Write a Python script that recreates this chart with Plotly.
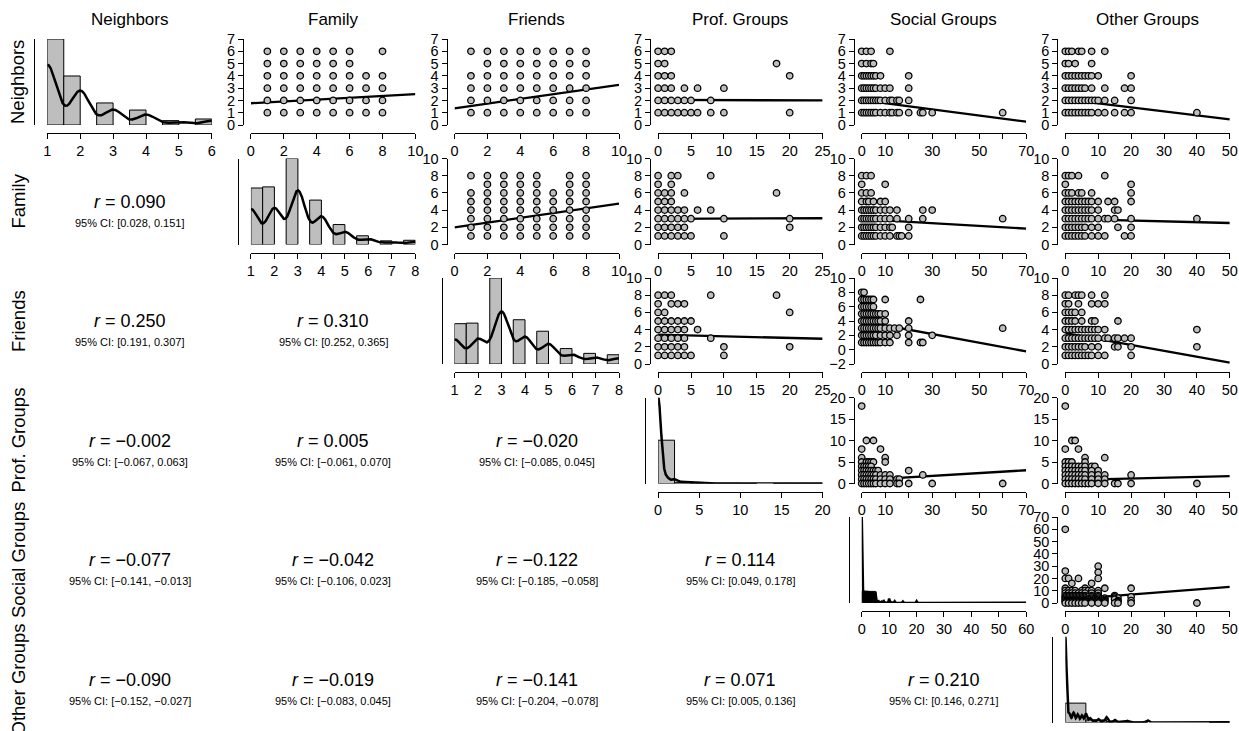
import numpy as np
import plotly.graph_objects as go

W, H = 1239, 731
FONT = "Liberation Sans, Arial, Helvetica, sans-serif"
TICKFONT = "Liberation Sans Narrow, Arial Narrow, Liberation Sans, Arial, sans-serif"

variables = ["Neighbors", "Family", "Friends", "Prof. Groups", "Social Groups", "Other Groups"]

# ---------------- diagonal: observed values and their frequencies ----------------
neighbors_values = [1, 2, 3, 4, 5, 6]
neighbors_counts = [472, 269, 121, 82, 24, 33]
family_values = [1, 2, 3, 4, 5, 6, 7, 8]
family_counts = [201, 205, 306, 158, 71, 31, 13, 15]
friends_values = [1, 2, 3, 4, 5, 6, 7, 8]
friends_counts = [144, 146, 307, 158, 117, 55, 38, 33]
prof_values = [0, 1, 2, 3, 4, 5, 6, 8, 10, 12, 15, 18, 20]
prof_counts = [850, 60, 40, 15, 10, 8, 4, 4, 5, 1, 1, 1, 1]
social_values = [0, 1, 2, 3, 4, 5, 6, 7, 8, 9, 10, 11, 12, 13, 14, 15, 16, 17, 18, 20, 25, 26, 30, 60]
social_counts = [484, 70, 68, 65, 64, 64, 15, 8, 12, 4, 25, 2, 10, 2, 2, 8, 3, 2, 2, 10, 3, 2, 3, 1]
other_values = [0, 1, 2, 3, 4, 5, 6, 7, 8, 9, 10, 11, 12, 13, 14, 15, 16, 18, 20, 40]
other_counts = [480, 50, 55, 45, 40, 50, 25, 12, 20, 6, 30, 3, 15, 3, 2, 10, 4, 3, 12, 2]

diag_values = [neighbors_values, family_values, friends_values, prof_values, social_values, other_values]
diag_counts = [neighbors_counts, family_counts, friends_counts, prof_counts, social_counts, other_counts]
diag_bandwidth = [0.285, 0.32, 0.33, 0.36, 0.16, 0.3]
diag_bin_width = [0.5, 0.5, 0.5, 2, 5, 5]
diag_ticks = [[1, 2, 3, 4, 5, 6], [1, 2, 3, 4, 5, 6, 7, 8], [1, 2, 3, 4, 5, 6, 7, 8],
              [0, 5, 10, 15, 20], [0, 10, 20, 30, 40, 50, 60], [0, 10, 20, 30, 40]]

# ---------------- axis ticks for scatter panels ----------------
col_ticks = {1: [0, 2, 4, 6, 8, 10], 2: [0, 2, 4, 6, 8, 10], 3: [0, 5, 10, 15, 20, 25],
             4: [0, 10, 20, 30, 40, 50, 60, 70], 5: [0, 10, 20, 30, 40, 50]}
col_ticktext = {4: ["0", "10", "", "30", "", "50", "", "70"]}
row_ticks = {0: [0, 1, 2, 3, 4, 5, 6, 7], 1: [0, 2, 4, 6, 8, 10], 2: [0, 2, 4, 6, 8, 10],
             3: [0, 5, 10, 15, 20], 4: [0, 10, 20, 30, 40, 50, 60, 70]}
friends_social_yticks = [-2, 0, 2, 4, 6, 8, 10]

# ---------------- scatter points (y value -> x values) ----------------
family_neighbors = {6: [1, 2, 3, 4, 5, 6, 8], 5: [1, 2, 3, 4, 5, 6], 4: [1, 2, 3, 4, 5, 6, 7, 8],
                    3: [1, 2, 3, 4, 5, 6, 7, 8], 2: [1, 2, 3, 4, 5, 6, 7, 8], 1: [1, 2, 3, 4, 5, 6, 7, 8]}
friends_neighbors = {6: [1, 2, 3, 4, 5, 6, 7, 8], 5: [2, 3, 4, 5, 6, 7, 8], 4: [1, 2, 3, 4, 5, 6, 7, 8],
                     3: [1, 2, 3, 4, 5, 6, 7, 8], 2: [1, 2, 3, 4, 5, 6, 7, 8], 1: [1, 2, 3, 4, 5, 6, 7, 8]}
prof_neighbors = {6: [0, 1, 2], 5: [0, 1, 18], 4: [0, 1, 2, 20], 3: [0, 1, 2, 4, 6, 10],
                  2: [0, 1, 2, 3, 4, 5, 8], 1: [0, 1, 2, 3, 4, 5, 6, 8, 10, 20]}
social_neighbors = {6: [0, 2, 4, 12], 5: [0, 2, 4, 5], 4: [0, 1, 2, 3, 4, 5, 6, 8, 20],
                    3: [0, 1, 2, 3, 4, 5, 6, 8, 10, 12, 20],
                    2: [0, 1, 2, 3, 4, 5, 6, 7, 8, 10, 12, 13, 15, 16, 20],
                    1: [0, 1, 2, 3, 4, 5, 6, 8, 10, 12, 13, 15, 16, 20, 25, 26, 30, 60]}
other_neighbors = {6: [0, 1, 2, 4, 5, 8, 12], 5: [0, 1, 3, 8], 4: [0, 1, 2, 3, 4, 5, 6, 7, 8, 10, 20],
                   3: [0, 1, 2, 3, 4, 5, 6, 8, 12, 18, 20],
                   2: [0, 1, 2, 3, 4, 5, 6, 7, 8, 9, 10, 12, 15, 20],
                   1: [0, 1, 2, 3, 4, 5, 6, 7, 8, 10, 12, 15, 18, 20, 40]}
friends_family = {8: [1, 2, 3, 4, 5, 7, 8], 7: [2, 3, 4, 5, 7, 8], 6: [1, 2, 3, 4, 5, 6, 7, 8],
                  5: [1, 2, 3, 4, 5, 6, 7, 8], 4: [1, 2, 3, 4, 5, 6, 7, 8], 3: [1, 2, 3, 4, 5, 6, 7, 8],
                  2: [1, 2, 3, 4, 5, 6, 7, 8], 1: [1, 2, 3, 4, 5, 6, 7, 8]}
prof_family = {8: [0, 2, 3, 8], 7: [0, 2], 6: [0, 1, 2, 4, 18], 5: [0, 1, 2], 4: [0, 1, 2, 3, 4, 6, 8],
               3: [0, 1, 2, 3, 4, 5, 10, 20], 2: [0, 1, 2, 3, 4, 20], 1: [0, 1, 2, 3, 4, 5, 10]}
social_family = {8: [0, 2, 4], 7: [0, 10], 6: [0, 2, 4], 5: [0, 2, 3, 5, 8, 10],
                 4: [0, 1, 2, 3, 4, 5, 6, 8, 10, 12, 15, 26, 30],
                 3: [0, 1, 2, 3, 4, 5, 6, 8, 10, 12, 15, 20, 26, 60],
                 2: [0, 1, 2, 3, 4, 5, 6, 8, 10, 12, 13, 20],
                 1: [0, 1, 2, 3, 4, 5, 6, 8, 10, 12, 15, 16, 17, 20]}
other_family = {8: [0, 1, 2, 4, 12], 7: [0, 20], 6: [0, 1, 2, 4, 5, 8, 20],
                5: [0, 1, 2, 3, 4, 5, 6, 7, 8, 10, 13, 15, 20],
                4: [0, 1, 2, 3, 4, 5, 6, 7, 8, 10, 15, 16],
                3: [0, 1, 2, 3, 4, 5, 6, 7, 8, 10, 12, 13, 15, 20, 40],
                2: [0, 1, 2, 3, 4, 5, 6, 8, 10, 16, 20],
                1: [0, 1, 2, 3, 4, 5, 6, 8, 10, 12, 18, 20]}
prof_friends = {8: [0, 1, 2, 8, 18], 7: [0, 2, 3, 4], 6: [0, 1, 20], 5: [0, 1, 2, 3, 4, 5],
                4: [0, 1, 2, 3, 4, 6], 3: [0, 1, 2, 3, 4, 8], 2: [0, 1, 2, 3, 4, 10, 20],
                1: [0, 1, 2, 3, 4, 5, 10]}
social_friends = {8: [0, 1], 7: [0, 1, 2, 3, 4, 5, 10, 25], 6: [0, 1, 2, 3, 4, 5],
                  5: [0, 1, 2, 3, 4, 5, 6, 7, 8, 10], 4: [0, 1, 2, 3, 4, 5, 6, 7, 8, 10, 20],
                  3: [0, 1, 2, 3, 4, 5, 6, 7, 8, 10, 12, 14, 16, 20, 60],
                  2: [0, 1, 2, 3, 4, 5, 6, 8, 10, 12, 15, 20, 30],
                  1: [0, 1, 2, 3, 4, 5, 6, 7, 8, 10, 12, 20, 25, 26]}
other_friends = {8: [0, 1, 3, 4, 5, 8, 12], 7: [0, 1, 4, 8, 10, 12], 6: [0, 1, 2, 3, 5],
                 5: [0, 1, 2, 3, 5, 8, 9, 16], 4: [0, 1, 2, 3, 4, 5, 6, 7, 8, 9, 10, 12, 40],
                 3: [0, 1, 2, 3, 4, 5, 6, 7, 8, 9, 10, 12, 13, 15, 16, 18, 20],
                 2: [0, 1, 2, 3, 4, 5, 6, 8, 10, 15, 16, 20, 40],
                 1: [0, 1, 2, 3, 4, 5, 6, 7, 8, 10, 12, 20]}
social_prof = {18: [0], 10: [2, 5], 8: [0, 8], 6: [0, 10], 5: [0, 2, 3, 4, 5, 10], 4: [0, 1, 2, 3, 4],
               3: [0, 1, 2, 3, 4, 5, 6, 7, 20], 2: [0, 1, 2, 3, 4, 5, 6, 8, 10, 12, 26],
               1: [0, 1, 2, 3, 4, 5, 6, 8, 10, 12, 15, 16],
               0: [0, 1, 2, 3, 4, 5, 6, 8, 10, 12, 15, 16, 20, 30, 60]}
other_prof = {18: [0], 10: [2, 3], 8: [0, 4], 6: [6, 12], 5: [0, 1, 2, 6],
              4: [0, 1, 2, 3, 4, 5, 6, 8, 9], 3: [0, 1, 2, 3, 4, 5, 6, 8, 10],
              2: [0, 1, 2, 3, 4, 5, 6, 8, 10, 12, 20], 1: [0, 1, 2, 3, 4, 5, 6, 8, 10, 12],
              0: [0, 1, 2, 3, 4, 5, 6, 7, 8, 10, 12, 15, 16, 20, 40]}
other_social = {60: [0], 30: [10], 26: [0], 25: [10], 20: [0, 1, 4, 10], 16: [2, 8], 12: [0, 6, 12, 20],
                10: [0, 1, 2, 3, 5, 6, 7, 8, 10], 8: [0, 1, 2, 3, 4, 5, 6, 8, 10],
                6: [0, 1, 2, 3, 4, 5, 6, 8, 10, 15], 5: [0, 1, 2, 3, 4, 5, 6, 7, 8, 10, 15, 20],
                4: [0, 1, 2, 3, 4, 5, 6, 8, 10, 12, 15, 16], 3: [0, 1, 2, 3, 4, 5, 6, 8, 10, 12, 15],
                2: [0, 1, 2, 3, 4, 5, 6, 8, 10, 12, 16, 20], 1: [0, 1, 2, 3, 4, 5, 6, 8, 10, 12, 16],
                0: [0, 1, 2, 3, 4, 5, 6, 8, 10, 12, 15, 16, 20, 40]}

scatter_points = {(0, 1): family_neighbors, (0, 2): friends_neighbors, (0, 3): prof_neighbors,
                  (0, 4): social_neighbors, (0, 5): other_neighbors,
                  (1, 2): friends_family, (1, 3): prof_family, (1, 4): social_family, (1, 5): other_family,
                  (2, 3): prof_friends, (2, 4): social_friends, (2, 5): other_friends,
                  (3, 4): social_prof, (3, 5): other_prof, (4, 5): other_social}

# regression lines: (intercept, slope)
fit_intercept = {(0, 1): 1.77, (0, 2): 1.36, (0, 3): 2.04, (0, 4): 2.03, (0, 5): 2.09,
                 (1, 2): 1.98, (1, 3): 2.98, (1, 4): 2.95, (1, 5): 2.98,
                 (2, 3): 3.41, (2, 4): 4.0, (2, 5): 3.6,
                 (3, 4): 0.77, (3, 5): 0.77, (4, 5): 2.7}
fit_slope = {(0, 1): 0.075, (0, 2): 0.19, (0, 3): -0.0016, (0, 4): -0.0251, (0, 5): -0.0326,
             (1, 2): 0.278, (1, 3): 0.003, (1, 4): -0.0157, (1, 5): -0.0096,
             (2, 3): -0.019, (2, 4): -0.0606, (2, 5): -0.069,
             (3, 4): 0.033, (3, 5): 0.0186, (4, 5): 0.21}

# correlations (lower triangle, row-major)
r_values = [0.090, 0.250, 0.310, -0.002, 0.005, -0.020, -0.077, -0.042, -0.122, 0.114,
            -0.090, -0.019, -0.141, 0.071, 0.210]
ci_lower = [0.028, 0.191, 0.252, -0.067, -0.061, -0.085, -0.141, -0.106, -0.185, 0.049,
            -0.152, -0.083, -0.204, 0.005, 0.146]
ci_upper = [0.151, 0.307, 0.365, 0.063, 0.070, 0.045, -0.013, 0.023, -0.058, 0.178,
            -0.027, 0.045, -0.078, 0.136, 0.271]

# ---------------- geometry ----------------
col_left = [47.3 + 203.6 * j for j in range(6)]
CW = 164.5
row_top = [39 + 119.5 * i for i in range(6)]
RH = 86

fig = go.Figure()
layout = dict(width=W, height=H, autosize=False, margin=dict(l=0, r=0, t=0, b=0, pad=0, autoexpand=False),
              showlegend=False, template="none",
              plot_bgcolor="white", paper_bgcolor="white", font=dict(family=FONT, color="black"))
annotations = []
counter = [0]
tickfont = dict(family=TICKFONT, size=14.5, color="black")


def fmt(v):
    return f"{v:.3f}".replace("-", "\u2212")


def tick_text(vals):
    return [str(v).replace("-", "\u2212") for v in vals]


def new_axes(i, j, xr, xt, xtt, yr, yt, ytt, diag):
    counter[0] += 1
    n = counter[0]
    s = "" if n == 1 else str(n)
    L = col_left[j]
    T = row_top[i]
    B = T + RH
    layout["xaxis" + s] = dict(domain=[L / W, (L + CW) / W], range=xr, anchor="free",
                               position=max(0.0, 1 - (B + 8) / H), automargin=False,
                               showline=True, linecolor="black", linewidth=1,
                               ticks="outside", ticklen=5, tickwidth=1, tickcolor="black",
                               tickmode="array", tickvals=xt, ticktext=xtt, tickfont=tickfont,
                               showticklabels=(B + 30 < H),
                               showgrid=False, zeroline=False, fixedrange=True)
    if diag:
        layout["yaxis" + s] = dict(domain=[1 - B / H, 1 - T / H], range=yr, anchor="free",
                                   position=(L - 13) / W, automargin=False, showline=True,
                                   linecolor="black", linewidth=1.3, ticks="", showticklabels=False,
                                   showgrid=False, zeroline=False, fixedrange=True)
    else:
        layout["yaxis" + s] = dict(domain=[1 - B / H, 1 - T / H], range=yr, anchor="free",
                                   position=(L - 8) / W, automargin=False, showline=True,
                                   linecolor="black", linewidth=1, ticks="outside", ticklen=5,
                                   tickwidth=1, tickcolor="black", tickmode="array", tickvals=yt,
                                   ticktext=ytt, tickfont=tickfont, showgrid=False, zeroline=False,
                                   fixedrange=True)
    return "x" + s, "y" + s


# ---------------- diagonal panels ----------------
for d in range(6):
    vals = np.array(diag_values[d], float)
    p = np.array(diag_counts[d], float)
    p = p / p.sum()
    ticks = diag_ticks[d]
    x0, x1 = ticks[0], ticks[-1]
    bw = diag_bin_width[d]
    breaks = np.arange(x0, x1 + bw / 2, bw)
    centers, widths, dens = [], [], []
    for b in range(len(breaks) - 1):
        lo, hi = breaks[b], breaks[b + 1]
        mask = (vals >= lo) & (vals <= hi) if b == 0 else (vals > lo) & (vals <= hi)
        dv = p[mask].sum() / (hi - lo)
        if dv > 0:
            centers.append((lo + hi) / 2)
            widths.append(hi - lo)
            dens.append(dv)
    h = diag_bandwidth[d]
    grid = np.linspace(x0, x1, 6000)
    kde = (p[None, :] * np.exp(-0.5 * ((grid[:, None] - vals[None, :]) / h) ** 2)).sum(1) / (h * np.sqrt(2 * np.pi))
    ymax = max(max(dens), kde.max())
    xa, ya = new_axes(d, d, [x0, x1], ticks, tick_text(ticks), [0, ymax], None, None, True)
    fig.add_trace(go.Bar(x=centers, y=dens, width=widths, xaxis=xa, yaxis=ya,
                         marker=dict(color="#BEBEBE", line=dict(color="black", width=1)),
                         hoverinfo="skip"))
    fig.add_trace(go.Scatter(x=grid, y=kde, mode="lines", xaxis=xa, yaxis=ya,
                             line=dict(color="black", width=2.5), hoverinfo="skip",
                             cliponaxis=False))

# ---------------- scatter panels ----------------
for (i, j), pts in scatter_points.items():
    xt = col_ticks[j]
    xtt = col_ticktext.get(j, tick_text(xt))
    yt = friends_social_yticks if (i, j) == (2, 4) else row_ticks[i]
    xa, ya = new_axes(i, j, [xt[0], xt[-1]], xt, xtt, [yt[0], yt[-1]], yt, tick_text(yt), False)
    xs, ys = [], []
    for yv, xl in pts.items():
        for xv in xl:
            xs.append(xv)
            ys.append(yv)
    lx = np.array([xt[0], xt[-1]], float)
    ly = fit_intercept[(i, j)] + fit_slope[(i, j)] * lx
    fig.add_trace(go.Scatter(x=lx, y=ly, mode="lines", xaxis=xa, yaxis=ya,
                             line=dict(color="black", width=2.3), hoverinfo="skip",
                             cliponaxis=False))
    fig.add_trace(go.Scatter(x=xs, y=ys, mode="markers", xaxis=xa, yaxis=ya,
                             marker=dict(size=6.5, color="#BEBEBE", line=dict(color="black", width=1.3)),
                             hoverinfo="skip", cliponaxis=False))

# ---------------- correlation text panels ----------------
k = 0
for i in range(6):
    for j in range(i):
        cx = (col_left[j] + CW / 2) / W
        cy = row_top[i] + RH / 2
        annotations.append(dict(x=cx, y=1 - cy / H, xref="paper", yref="paper",
                                text=f"<i>r</i> = {fmt(r_values[k])}", showarrow=False,
                                font=dict(family=FONT, size=18, color="black"),
                                xanchor="center", yanchor="middle"))
        annotations.append(dict(x=cx, y=1 - (cy + 21) / H, xref="paper", yref="paper",
                                text=f"95% CI: [{fmt(ci_lower[k])}, {fmt(ci_upper[k])}]",
                                showarrow=False, font=dict(family=FONT, size=11, color="black"),
                                xanchor="center", yanchor="middle"))
        k += 1

# ---------------- titles ----------------
for j, name in enumerate(variables):
    annotations.append(dict(x=(col_left[j] + CW / 2) / W, y=1 - 20 / H, xref="paper", yref="paper",
                            text=name, showarrow=False, font=dict(family=FONT, size=17, color="black"),
                            xanchor="center", yanchor="middle"))
for i, name in enumerate(variables):
    annotations.append(dict(x=18 / W, y=1 - (row_top[i] + RH / 2) / H, xref="paper", yref="paper",
                            text=name, showarrow=False, textangle=-90,
                            font=dict(family=FONT, size=18.5, color="black"),
                            xanchor="center", yanchor="middle"))

layout["annotations"] = annotations
fig.update_layout(**layout)
fig.write_html("out.html")
